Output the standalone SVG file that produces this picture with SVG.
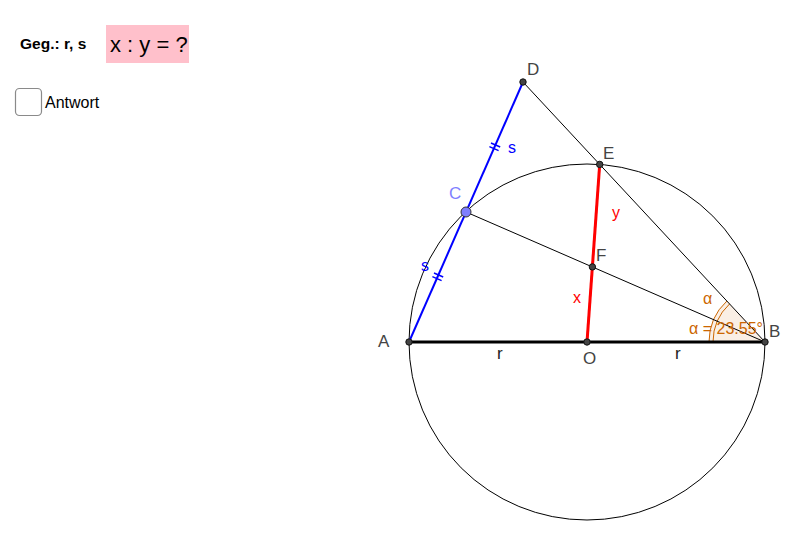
<svg xmlns="http://www.w3.org/2000/svg" width="801" height="552" viewBox="0 0 801 552">
<style>
.lbl{font-family:"Liberation Sans",Arial,sans-serif;font-size:17px;fill:#444}
.thin{stroke:#000;stroke-width:1;fill:none}
.pt{fill:#444;stroke:#111;stroke-width:1}
.ang{fill:#cc6600;font-family:"Liberation Sans",Arial,sans-serif;font-size:16px}
.blue{fill:#0000ff;font-family:"Liberation Sans",Arial,sans-serif;font-size:16px}
.red{fill:#ff0000;font-family:"Liberation Sans",Arial,sans-serif;font-size:16px}
</style>
<rect width="801" height="552" fill="#fff"/>
<g id="header">
<text x="20" y="49" font-family="Liberation Sans,Arial,sans-serif" font-size="15.5" font-weight="bold" fill="#000">Geg.: r, s</text>
<rect x="106" y="25" width="83" height="38" fill="#ffc0cb"/>
<text x="110" y="52" font-family="Liberation Sans,Arial,sans-serif" font-size="22" fill="#000">x : y = ?</text>
</g>
<g id="checkbox">
<rect x="15.5" y="88.5" width="26" height="27" rx="4" fill="#fff" stroke="#8a8a8a" stroke-width="1.2"/>
<text x="45" y="108" font-family="Liberation Sans,Arial,sans-serif" font-size="16" fill="#000">Antwort</text>
</g>
<g id="angle">
<path d="M765,342 L709,342 A56,56 0 0 1 726.9,301 Z" fill="#cc6600" fill-opacity="0.1"/>
<path d="M709,342 A56,56 0 0 1 726.9,301" fill="none" stroke="#cc6600" stroke-width="1"/>
<path d="M713,342 A52,52 0 0 1 729.6,303.9" fill="none" stroke="#cc6600" stroke-width="1"/>
</g>
<g id="connectors">
<circle cx="587" cy="342" r="178" class="thin"/>
<line x1="523" y1="82" x2="765" y2="342" class="thin"/>
<line x1="466" y1="212" x2="765" y2="342" class="thin"/>
<line x1="409" y1="342" x2="765" y2="342" stroke="#000" stroke-width="3"/>
<line x1="409" y1="342" x2="523" y2="82" stroke="#0000ff" stroke-width="2"/>
<line x1="587" y1="342" x2="599.7" y2="164.4" stroke="#ff0000" stroke-width="3"/>
<g stroke="#0000ff" stroke-width="1.5">
<line x1="432.4" y1="276.6" x2="441.6" y2="280.6"/>
<line x1="434.0" y1="273.0" x2="443.2" y2="277.0"/>
<line x1="489.4" y1="146.6" x2="498.6" y2="150.6"/>
<line x1="491.0" y1="143.0" x2="500.2" y2="147.0"/>
</g>
</g>
<g id="A"><circle cx="409" cy="342" r="3.2" class="pt"/><text x="378" y="347" class="lbl">A</text></g>
<g id="B"><circle cx="765" cy="342" r="3.2" class="pt"/><text x="769" y="337" class="lbl">B</text></g>
<g id="O"><circle cx="587" cy="342" r="3.2" class="pt"/><text x="583" y="364" class="lbl">O</text></g>
<g id="D"><circle cx="523" cy="82" r="3.2" class="pt"/><text x="527" y="75" class="lbl">D</text></g>
<g id="E"><circle cx="599.7" cy="164.4" r="3.2" class="pt"/><text x="603" y="159" class="lbl">E</text></g>
<g id="F"><circle cx="592.4" cy="266.9" r="3.2" class="pt"/><text x="596" y="261" class="lbl">F</text></g>
<g id="C"><circle cx="466" cy="212" r="5" fill="#7f7fff" stroke="#333" stroke-width="1"/><text x="449" y="199" class="lbl" style="fill:#7f7fff">C</text></g>
<g id="labels">
<text x="508" y="153" class="blue">s</text>
<text x="421" y="271" class="blue">s</text>
<text x="612" y="218" class="red">y</text>
<text x="573" y="303" class="red">x</text>
<text x="497" y="359" class="lbl" style="fill:#222">r</text>
<text x="675" y="359" class="lbl" style="fill:#222">r</text>
<text x="703" y="304" class="ang">α</text>
<text x="689" y="334" class="ang">α = 23.55°</text>
</g>
</svg>
